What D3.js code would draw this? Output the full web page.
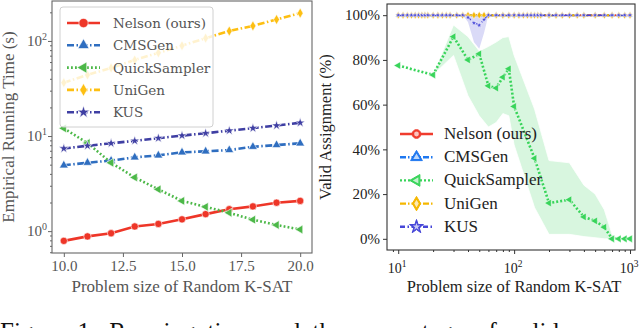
<!DOCTYPE html>
<html>
<head>
<meta charset="utf-8">
<script src="https://cdn.jsdelivr.net/npm/d3@7"></script>
<style>
  body { margin: 0; background: #fff; }
</style>
</head>
<body>
<div id="chart"></div>
<script>
// ---- left panel: running time vs problem size ----
var sizes = [10, 11, 12, 13, 14, 15, 16, 17, 18, 19, 20];
var nelsonTime = [0.79, 0.88, 0.95, 1.12, 1.19, 1.33, 1.51, 1.70, 1.82, 1.99, 2.08];
var cmsgenTime = [4.92, 5.24, 5.52, 5.97, 6.26, 6.74, 6.90, 7.12, 7.71, 8.04, 8.38];
var quickTime = [12.05, 8.44, 5.24, 3.67, 2.75, 2.08, 1.80, 1.56, 1.32, 1.16, 1.04];
var unigenTime = [36.4, 43.9, 52, 63, 75, 89, 107, 127, 144, 168, 196];
var kusTime = [7.4, 7.9, 8.4, 8.9, 9.5, 10.1, 10.7, 11.4, 12.1, 12.9, 13.8];
var leftXTicks = [10, 12.5, 15, 17.5, 20];
var leftYTicks = [1, 10, 100];

// ---- right panel: valid assignment vs problem size ----
var denseSizes = [10, 11, 12, 13, 14, 15, 16, 17, 18, 20, 22, 24, 26, 28, 32, 36, 40, 45, 50, 55, 60, 70, 80, 90,
  100, 110, 120, 130, 140, 150, 160, 170, 200, 230, 260, 300, 350, 400, 500, 600, 700, 800, 900, 1000];
var nelsonValid = [100, 100, 100, 100, 100, 100, 100, 100, 100, 100, 100, 100, 100, 100, 100, 100, 100, 100, 100, 100, 100, 100,
  100, 100, 100, 100, 100, 100, 100, 100, 100, 100, 100, 100, 100, 100, 100, 100, 100, 100, 100, 100, 100, 100];
var cmsgenValid = [100, 100, 100, 100, 100, 100, 100, 100, 100, 100, 100, 100, 100, 100, 100, 100, 100, 100, 100, 100, 100, 100,
  100, 100, 100, 100, 100, 100, 100, 100, 100, 100, 100, 100, 100, 100, 100, 100, 100, 100, 100, 100, 100, 100];
var unigenValid = [100, 100, 100, 100, 100, 100, 100, 100, 100, 100, 100, 100, 100, 100, 100, 100, 100, 100, 100, 100, 100, 100,
  100, 100, 100, 100, 100, 100, 100, 100, 100, 100, 100, 100, 100, 100, 100, 100, 100, 100, 100, 100, 100, 100];
var kusValid = [100, 100, 100, 100, 100, 100, 100, 100, 100, 100, 100, 100, 100, 100, 100, 100, 99, 96.5, 95.5, 98, 100, 100,
  100, 100, 100, 100, 100, 100, 100, 100, 100, 100, 100, 100, 100, 100, 100, 100, 100, 100, 100, 100, 100, 100];
var kusLow = [100, 100, 100, 100, 100, 100, 100, 100, 100, 100, 100, 100, 100, 100, 100, 100, 97, 88, 85, 92, 100, 100,
  100, 100, 100, 100, 100, 100, 100, 100, 100, 100, 100, 100, 100, 100, 100, 100, 100, 100, 100, 100, 100, 100];

var quickSizes = [10, 20, 30, 40, 50, 60, 70, 80, 90, 100, 150, 200, 300, 400, 500, 600, 700, 800, 900, 1000];
var quickValid = [77.5, 73.3, 90.4, 80, 82.7, 68.4, 67.4, 72.3, 76, 59.2, 36, 16, 17.5, 9.8, 8, 5.2, 0, 0, 0, 0];
var quickLow = [77.5, 73.3, 82, 64, 55, 50, 52, 56, 55, 42, 14, 2, 2, 1, 0.5, 0, 0, 0, 0, 0];
var quickHigh = [77.5, 73.3, 95.6, 90.4, 84, 86, 88, 90, 90.4, 82, 58, 35, 34, 24, 20, 13, 2, 0, 0, 0];
var rightXTicks = [10, 100, 1000];
var rightYTicks = [0, 20, 40, 60, 80, 100];

var names = ["Nelson (ours)", "CMSGen", "QuickSampler", "UniGen", "KUS"];

const WIDTH = 640, HEIGHT = 328;
const SERIF = "'Liberation Serif', serif";
const WIDE_SERIF = "'DejaVu Serif', serif";

const svg = d3.select("#chart").append("svg")
  .attr("width", WIDTH)
  .attr("height", HEIGHT);

// ========== LEFT ==========
var xL = d3.scaleLinear().domain([9.5, 20.5]).range([52, 312]);
var yL = d3.scaleLog().domain([Math.pow(10, -0.23), Math.pow(10, 2.42)]).range([253, 1]);

var leftStyle = [
  {color: "#ee3628", dash: null, sym: d3.symbolCircle, size: 42, rot: 0},
  {color: "#2f6ec0", dash: "7,2.5,1.5,2.5", sym: d3.symbolTriangle, size: 34, rot: 0},
  {color: "#4cb848", dash: "1.8,2.2", sym: d3.symbolTriangle, size: 34, rot: -90},
  {color: "#fdbf12", dash: "7,2.5,1.5,2.5", sym: d3.symbolDiamond, size: 30, rot: 0},
  {color: "#3f3fa3", dash: "7,2.5,1.5,2.5", sym: d3.symbolStar, size: 30, rot: 0}
];
var leftSeries = [nelsonTime, cmsgenTime, quickTime, unigenTime, kusTime];

var gL = svg.append("g");
var lineL = d3.line().x(function(d) { return xL(d[0]); }).y(function(d) { return yL(d[1]); });

leftSeries.forEach(function(vals, i) {
  var st = leftStyle[i];
  var pts = sizes.map(function(s, j) { return [s, vals[j]]; });
  gL.append("path")
    .attr("d", lineL(pts))
    .attr("fill", "none")
    .attr("stroke", st.color)
    .attr("stroke-width", 2.6)
    .attr("stroke-dasharray", st.dash);
  gL.selectAll(null).data(pts).enter().append("path")
    .attr("d", d3.symbol().type(st.sym).size(st.size))
    .attr("transform", function(d) { return "translate(" + xL(d[0]) + "," + yL(d[1]) + ") rotate(" + st.rot + ")"; })
    .attr("fill", st.color)
    .attr("stroke", "#fff")
    .attr("stroke-width", 0.6);
});

// frame
gL.append("rect").attr("x", 52).attr("y", 1).attr("width", 260).attr("height", 252)
  .attr("fill", "none").attr("stroke", "#666").attr("stroke-width", 1.1);

// x axis
var axL = gL.append("g").attr("transform", "translate(0,253)")
  .call(d3.axisBottom(xL).tickValues(leftXTicks).tickSize(4).tickPadding(3).tickFormat(d3.format(".1f")));
axL.select(".domain").remove();
axL.selectAll("line").attr("stroke", "#666");
axL.selectAll("text").attr("fill", "#555").style("font-size", "15px").style("font-family", SERIF);

// y axis major
var ayL = gL.append("g").attr("transform", "translate(52,0)")
  .call(d3.axisLeft(yL).tickValues(leftYTicks).tickSize(4).tickFormat(""));
ayL.select(".domain").remove();
ayL.selectAll("line").attr("stroke", "#666");
// minor
var minorL = [];
[0.1, 1, 10, 100].forEach(function(b) {
  for (var k = 2; k <= 9; k++) {
    var v = b * k;
    if (v > yL.domain()[0] && v < yL.domain()[1]) minorL.push(v);
  }
});
var amL = gL.append("g").attr("transform", "translate(52,0)")
  .call(d3.axisLeft(yL).tickValues(minorL).tickSize(2).tickFormat(""));
amL.select(".domain").remove();
amL.selectAll("line").attr("stroke", "#666");

leftYTicks.forEach(function(v, i) {
  var t = gL.append("text").attr("x", 47).attr("y", yL(v) + 5)
    .attr("text-anchor", "end").attr("fill", "#555").style("font-size", "15px").style("font-family", SERIF);
  t.append("tspan").text("10");
  t.append("tspan").attr("dy", -6).style("font-size", "10px").text(String(Math.round(Math.log10(v))));
});

gL.append("text").attr("x", 182).attr("y", 292).attr("text-anchor", "middle")
  .attr("fill", "#555").style("font-size", "17px").style("font-family", SERIF)
  .text("Problem size of Random K-SAT");
gL.append("text").attr("transform", "translate(14,127) rotate(-90)").attr("text-anchor", "middle")
  .attr("fill", "#555").style("font-size", "17px").style("font-family", SERIF)
  .text("Empirical Running Time (s)");

// legend
var lgL = gL.append("g");
lgL.append("rect").attr("x", 60).attr("y", 7).attr("width", 153).attr("height", 120).attr("rx", 3)
  .attr("fill", "#fff").attr("fill-opacity", 0.8).attr("stroke", "#d0d0d0");
names.forEach(function(n, i) {
  var st = leftStyle[i];
  var yy = 23 + i * 22.3;
  lgL.append("line").attr("x1", 67).attr("x2", 100).attr("y1", yy).attr("y2", yy)
    .attr("stroke", st.color).attr("stroke-width", 2.6).attr("stroke-dasharray", st.dash);
  lgL.append("path").attr("d", d3.symbol().type(st.sym).size(st.size * 1.6))
    .attr("transform", "translate(83.5," + yy + ") rotate(" + st.rot + ")")
    .attr("fill", st.color).attr("stroke", "#fff").attr("stroke-width", 0.6);
  lgL.append("text").attr("x", 113).attr("y", yy + 5).attr("fill", "#555")
    .style("font-size", "13.5px").style("font-family", WIDE_SERIF).style("font-weight", "normal")
    .text(n);
});

// ========== RIGHT ==========
var xR = d3.scaleLog().domain([8, 1104]).range([387, 635]);
var yR = d3.scaleLinear().domain([-5, 105]).range([250, 4]);

var rightStyle = [
  {color: "#f03c2e", dash: null, sym: d3.symbolCircle, rot: 0},
  {color: "#1f78f0", dash: "6,2,1.5,2", sym: d3.symbolTriangle, rot: 0},
  {color: "#38d45a", dash: "2,2", sym: d3.symbolTriangle, rot: -90},
  {color: "#f5b700", dash: "6,2,1.5,2", sym: d3.symbolDiamond, rot: 0},
  {color: "#4646d8", dash: "5,2.5,1.5,2.5", sym: d3.symbolStar, rot: 0}
];

var gR = svg.append("g");
var lineR = d3.line().x(function(d) { return xR(d[0]); }).y(function(d) { return yR(d[1]); });
var areaR = d3.area().x(function(d) { return xR(d[0]); }).y0(function(d) { return yR(d[1]); }).y1(function(d) { return yR(d[2]); });

// QuickSampler band
var qPts = quickSizes.map(function(s, j) { return [s, quickLow[j], quickHigh[j]]; });
gR.append("path").attr("d", areaR(qPts))
  .attr("fill", "#3dd35f").attr("fill-opacity", 0.2).attr("stroke", "#fff").attr("stroke-width", 0.8);
// KUS band
var kPts = denseSizes.map(function(s, j) { return [s, kusLow[j], 100]; }).filter(function(d) {
  return d[0] >= 36 && d[0] <= 60;
});
gR.append("path").attr("d", areaR(kPts))
  .attr("fill", "#4646d8").attr("fill-opacity", 0.2).attr("stroke", "none");

function drawRight(xs, vals, st, w, msize) {
  var pts = xs.map(function(s, j) { return [s, vals[j]]; });
  gR.append("path").attr("d", lineR(pts))
    .attr("fill", "none").attr("stroke", st.color).attr("stroke-width", w)
    .attr("stroke-dasharray", st.dash);
  gR.selectAll(null).data(pts).enter().append("path")
    .attr("d", d3.symbol().type(st.sym).size(msize))
    .attr("transform", function(d) { return "translate(" + xR(d[0]) + "," + yR(d[1]) + ") rotate(" + st.rot + ")"; })
    .attr("fill", st.color).attr("stroke", "#fff").attr("stroke-width", 0.5);
}

drawRight(quickSizes, quickValid, rightStyle[2], 2.6, 26);
drawRight(denseSizes, nelsonValid, rightStyle[0], 2, 12);
drawRight(denseSizes, cmsgenValid, rightStyle[1], 2, 12);
drawRight(denseSizes, unigenValid, rightStyle[3], 2, 16);
drawRight(denseSizes, kusValid, rightStyle[4], 1.6, 10);

gR.append("rect").attr("x", 387).attr("y", 4).attr("width", 248).attr("height", 246)
  .attr("fill", "none").attr("stroke", "#333").attr("stroke-width", 1.1);

var axR = gR.append("g").attr("transform", "translate(0,250)")
  .call(d3.axisBottom(xR).tickValues(rightXTicks).tickSize(4).tickFormat(""));
axR.select(".domain").remove();
axR.selectAll("line").attr("stroke", "#333");
var minorR = [];
[1, 10, 100, 1000].forEach(function(b) {
  for (var k = 2; k <= 9; k++) {
    var v = b * k;
    if (v > xR.domain()[0] && v < xR.domain()[1]) minorR.push(v);
  }
});
var amR = gR.append("g").attr("transform", "translate(0,250)")
  .call(d3.axisBottom(xR).tickValues(minorR).tickSize(2).tickFormat(""));
amR.select(".domain").remove();
amR.selectAll("line").attr("stroke", "#333");

rightXTicks.forEach(function(v) {
  var t = gR.append("text").attr("x", xR(v) - 1).attr("y", 273)
    .attr("text-anchor", "middle").attr("fill", "#222").style("font-size", "14px").style("font-family", SERIF);
  t.append("tspan").text("10");
  t.append("tspan").attr("dy", -6).style("font-size", "9.5px").text(String(Math.round(Math.log10(v))));
});

var ayR = gR.append("g").attr("transform", "translate(387,0)")
  .call(d3.axisLeft(yR).tickValues(rightYTicks).tickSize(4).tickPadding(3).tickFormat(function(d) { return d + "%"; }));
ayR.select(".domain").remove();
ayR.selectAll("line").attr("stroke", "#333");
ayR.selectAll("text").attr("fill", "#222").style("font-size", "15px").style("font-family", SERIF);

gR.append("text").attr("x", 514).attr("y", 292).attr("text-anchor", "middle")
  .attr("fill", "#222").style("font-size", "16.5px").style("font-family", SERIF)
  .text("Problem size of Random K-SAT");
gR.append("text").attr("transform", "translate(331,127) rotate(-90)").attr("text-anchor", "middle")
  .attr("fill", "#222").style("font-size", "16.5px").style("font-family", SERIF)
  .text("Valid Assignment (%)");

// right legend
names.forEach(function(n, i) {
  var st = rightStyle[i];
  var yy = 134 + i * 23.2;
  gR.append("line").attr("x1", 400).attr("x2", 433).attr("y1", yy).attr("y2", yy)
    .attr("stroke", st.color).attr("stroke-width", 2.4).attr("stroke-dasharray", st.dash);
  gR.append("path").attr("d", d3.symbol().type(st.sym).size(60))
    .attr("transform", "translate(416.5," + yy + ") rotate(" + st.rot + ")")
    .attr("fill", st.color).attr("stroke", st.color).attr("stroke-width", 1);
  gR.append("path").attr("d", d3.symbol().type(st.sym).size(18))
    .attr("transform", "translate(416.5," + yy + ") rotate(" + st.rot + ")")
    .attr("fill", "#fff").attr("fill-opacity", 0.7);
  gR.append("text").attr("x", 444).attr("y", yy + 5).attr("fill", "#222")
    .style("font-size", "17px").style("font-family", SERIF).style("font-weight", "normal")
    .text(n);
});

// caption (cut off at the bottom of the picture, as in the source)
svg.append("text").attr("x", 0).attr("y", 340).attr("fill", "#111")
  .style("font-size", "25px").style("font-family", SERIF).attr("word-spacing", "6px")
  .text("Figure 1: Running time and the percentage of valid");
</script>
</body>
</html>
